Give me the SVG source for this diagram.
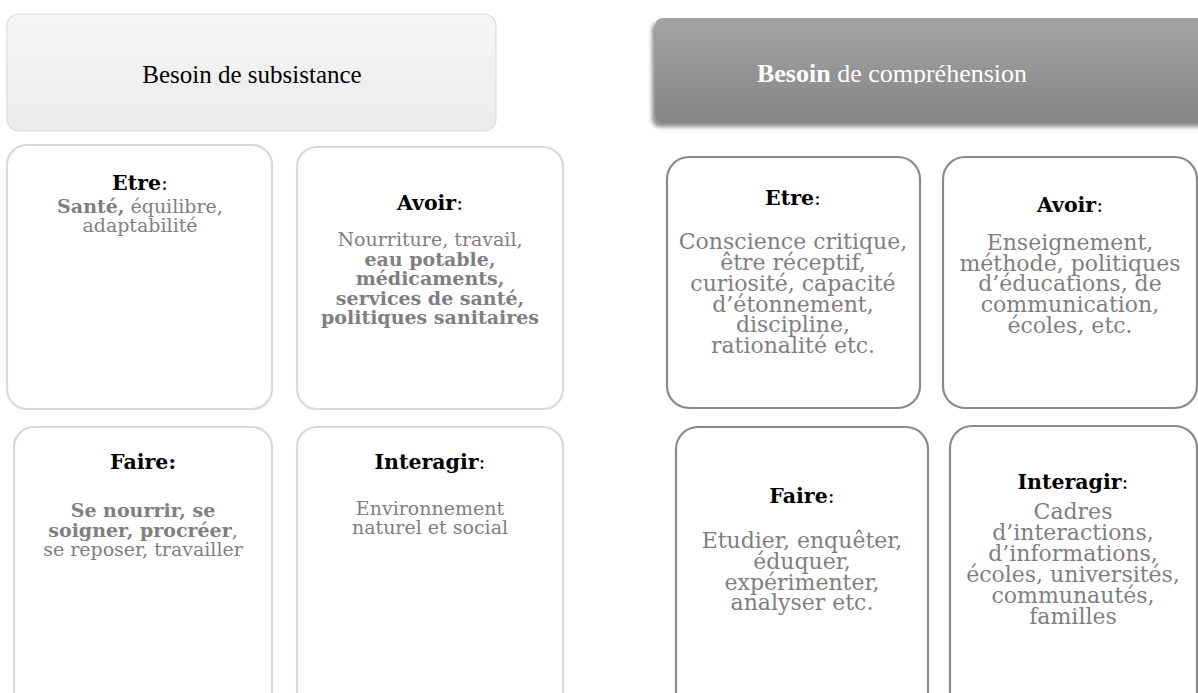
<svg xmlns="http://www.w3.org/2000/svg" width="1198" height="693" viewBox="0 0 1198 693">
<defs>
<linearGradient id="gLight" x1="0" y1="0" x2="0" y2="1"><stop offset="0" stop-color="#f6f6f6"/><stop offset="1" stop-color="#ebebeb"/></linearGradient>
<linearGradient id="gDark" x1="0" y1="0" x2="0" y2="1"><stop offset="0" stop-color="#a4a4a4"/><stop offset="1" stop-color="#858585"/></linearGradient>
<filter id="sh" x="-5%" y="-20%" width="110%" height="150%">
<feGaussianBlur in="SourceAlpha" stdDeviation="2"/>
<feOffset dx="-3" dy="4" result="o"/>
<feComponentTransfer><feFuncA type="linear" slope="0.45"/></feComponentTransfer>
<feMerge><feMergeNode/><feMergeNode in="SourceGraphic"/></feMerge>
</filter>
<clipPath id="hclip"><rect x="650" y="10" width="548" height="73.5"/></clipPath>
</defs>
<style>
.lbox{fill:#ffffff;stroke:#dadada;stroke-width:2.2}
.dbox{fill:#ffffff;stroke:#8a8a8a;stroke-width:2.2}
.t{font-family:"DejaVu Serif","Liberation Serif",serif;text-anchor:middle}
.ti{font-weight:bold;fill:#000;font-size:20.5px}
.bl{fill:#7f7f7f;font-size:19px}
.br{fill:#7f7f7f;font-size:22px}
.b{font-weight:bold}
.n{font-weight:normal}
.hd{font-family:"Liberation Serif",serif;text-anchor:middle}
</style>

<g id="header-subsistance">
<rect x="7" y="14" width="489" height="117" rx="12" fill="url(#gLight)" stroke="#dcdcdc" stroke-width="1.2"/>
<text class="hd" x="252" y="83" font-size="25" fill="#000">Besoin de subsistance</text>
</g>

<g id="header-comprehension">
<rect x="655" y="18" width="600" height="105" rx="8" fill="url(#gDark)" filter="url(#sh)"/>
<text class="hd" x="892" y="82" font-size="26" fill="#ffffff" clip-path="url(#hclip)"><tspan font-weight="bold">Besoin</tspan> de compréhension</text>
</g>

<g id="s-etre">
<rect class="lbox" x="7" y="145" width="265" height="264" rx="20"/>
<text class="t ti" x="140" y="190">Etre<tspan class="n">:</tspan></text>
<text class="t bl"><tspan x="140" y="213"><tspan class="b">Santé,</tspan> équilibre,</tspan><tspan x="140" y="232">adaptabilité</tspan></text>
</g>

<g id="s-avoir">
<rect class="lbox" x="297" y="147" width="266" height="262" rx="20"/>
<text class="t ti" x="430" y="210">Avoir<tspan class="n">:</tspan></text>
<text class="t bl"><tspan x="430" y="246">Nourriture, travail,</tspan><tspan class="b" x="430" y="265.5">eau potable,</tspan><tspan class="b" x="430" y="285">médicaments,</tspan><tspan class="b" x="430" y="304.5">services de santé,</tspan><tspan class="b" x="430" y="324">politiques sanitaires</tspan></text>
</g>

<g id="s-faire">
<rect class="lbox" x="14" y="427" width="258" height="290" rx="20"/>
<text class="t ti" x="143" y="469">Faire:</text>
<text class="t bl"><tspan class="b" x="143" y="517">Se nourrir, se</tspan><tspan x="143" y="537"><tspan class="b">soigner, procréer</tspan>,</tspan><tspan x="143" y="556">se reposer, travailler</tspan></text>
</g>

<g id="s-interagir">
<rect class="lbox" x="297" y="427" width="266" height="290" rx="20"/>
<text class="t ti" x="430" y="469">Interagir<tspan class="n">:</tspan></text>
<text class="t bl"><tspan x="430" y="515">Environnement</tspan><tspan x="430" y="534">naturel et social</tspan></text>
</g>

<g id="c-etre">
<rect class="dbox" x="667" y="157" width="253" height="251" rx="22"/>
<text class="t ti" x="793" y="205">Etre<tspan class="n">:</tspan></text>
<text class="t br"><tspan x="793" y="249">Conscience critique,</tspan><tspan x="793" y="270">être réceptif,</tspan><tspan x="793" y="291">curiosité, capacité</tspan><tspan x="793" y="311.5">d’étonnement,</tspan><tspan x="793" y="332">discipline,</tspan><tspan x="793" y="353">rationalité etc.</tspan></text>
</g>

<g id="c-avoir">
<rect class="dbox" x="943" y="157" width="254" height="251" rx="22"/>
<text class="t ti" x="1070" y="212">Avoir<tspan class="n">:</tspan></text>
<text class="t br"><tspan x="1070" y="250">Enseignement,</tspan><tspan x="1070" y="270.5">méthode, politiques</tspan><tspan x="1070" y="291">d’éducations, de</tspan><tspan x="1070" y="312">communication,</tspan><tspan x="1070" y="332.5">écoles, etc.</tspan></text>
</g>

<g id="c-faire">
<rect class="dbox" x="676" y="427" width="252" height="290" rx="22"/>
<text class="t ti" x="802" y="503">Faire<tspan class="n">:</tspan></text>
<text class="t br"><tspan x="802" y="548">Etudier, enquêter,</tspan><tspan x="802" y="569">éduquer,</tspan><tspan x="802" y="590">expérimenter,</tspan><tspan x="802" y="610">analyser etc.</tspan></text>
</g>

<g id="c-interagir">
<rect class="dbox" x="950" y="426" width="247" height="291" rx="22"/>
<text class="t ti" x="1073" y="489">Interagir<tspan class="n">:</tspan></text>
<text class="t br"><tspan x="1073" y="519">Cadres</tspan><tspan x="1073" y="540">d’interactions,</tspan><tspan x="1073" y="561">d’informations,</tspan><tspan x="1073" y="582">écoles, universités,</tspan><tspan x="1073" y="603">communautés,</tspan><tspan x="1073" y="624">familles</tspan></text>
</g>
</svg>
